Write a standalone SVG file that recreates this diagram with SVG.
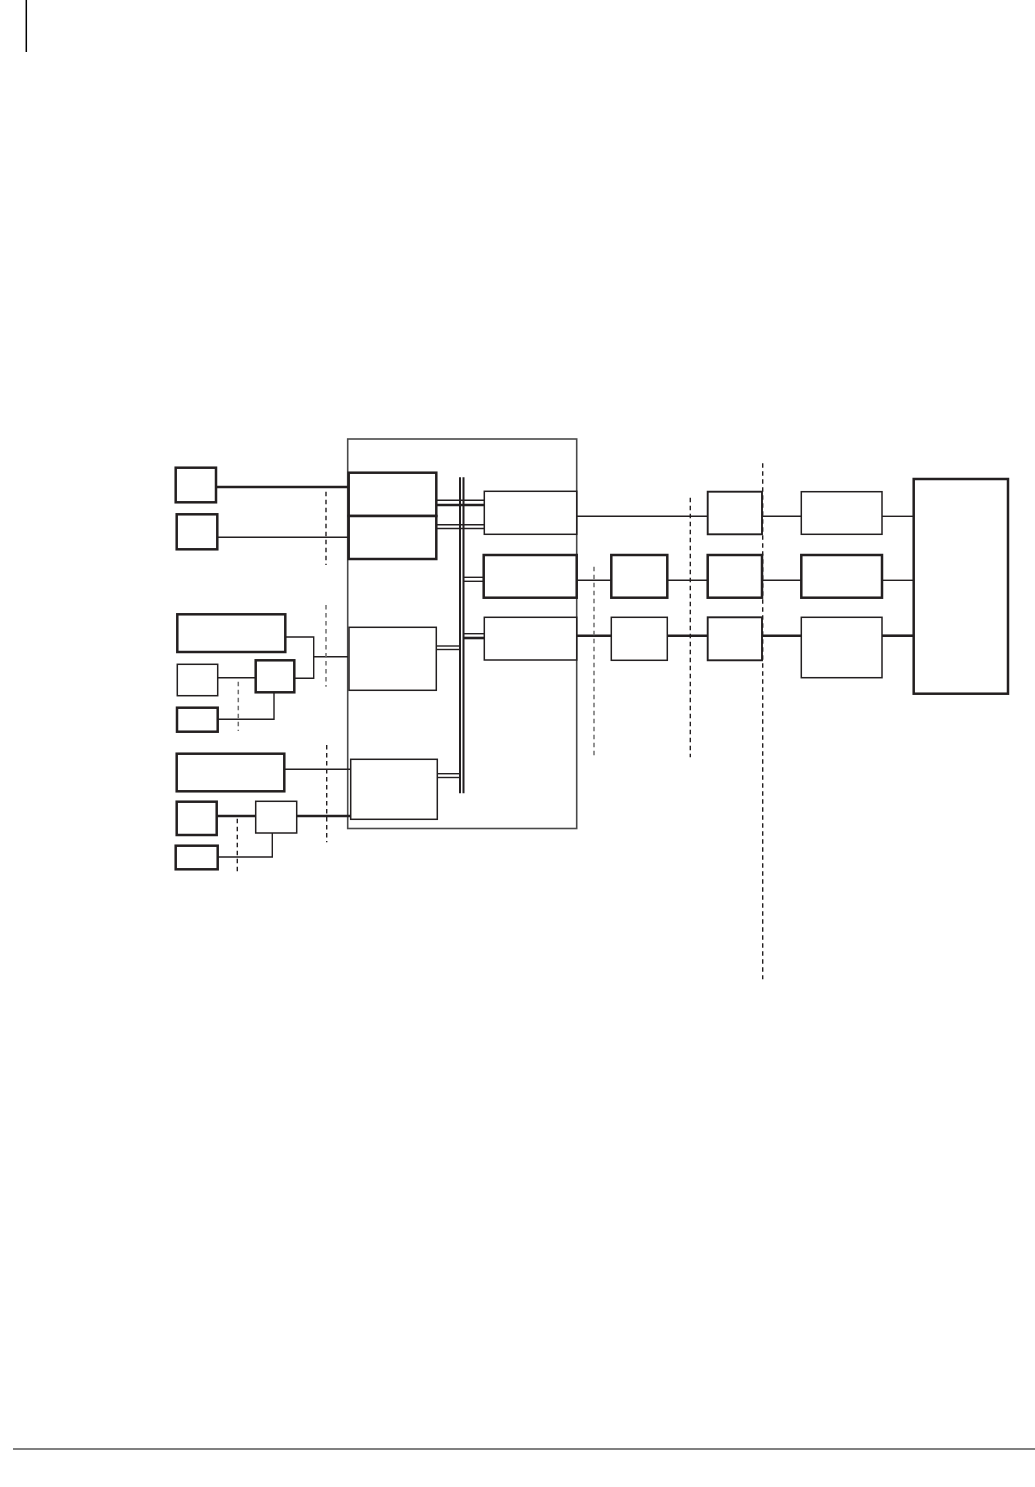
<svg xmlns="http://www.w3.org/2000/svg" width="1035" height="1487" viewBox="0 0 1035 1487">
<style>
.bx{fill:#fff;stroke:#231f20;stroke-width:1.5}
.bm{fill:#fff;stroke:#231f20;stroke-width:1.9}
.bk{fill:#fff;stroke:#231f20;stroke-width:2.5}
.ln{stroke:#231f20;stroke-width:1.4;fill:none}
.lk{stroke:#231f20;stroke-width:2.6;fill:none}
.ds{stroke:#231f20;stroke-width:1.4;stroke-dasharray:4.5 3.5;fill:none}
.dg{stroke:#6f6f6f;stroke-width:1.5;stroke-dasharray:4.5 3.5;fill:none}
</style>
<rect width="1035" height="1487" fill="#fff"/>
<line x1="26.3" y1="0" x2="26.3" y2="52" stroke="#000" stroke-width="1.5"/>
<line x1="13" y1="1449" x2="1035" y2="1449" stroke="#808080" stroke-width="2"/>

<g id="container"><rect x="347.7" y="439" width="229" height="389.5" fill="none" stroke="#4a4a4a" stroke-width="1.6"/></g>

<g id="connectors">
<line class="lk" x1="216" y1="487" x2="348" y2="487"/>
<line class="ln" x1="217" y1="537.3" x2="348" y2="537.3"/>
<polyline class="ln" points="285.3,637 313.7,637 313.7,678.3 294.3,678.3"/>
<line class="ln" x1="313.7" y1="656.7" x2="348" y2="656.7"/>
<line class="ln" x1="217.7" y1="677.7" x2="255.7" y2="677.7"/>
<polyline class="ln" points="274,692.3 274,719.3 217.7,719.3"/>
<line class="ln" x1="284.3" y1="769.3" x2="350.7" y2="769.3"/>
<line class="lk" x1="216.7" y1="816" x2="255.7" y2="816"/>
<line class="lk" x1="296.7" y1="816" x2="350.7" y2="816"/>
<polyline class="ln" points="272.3,833 272.3,857 217.7,857"/>
<line x1="460" y1="477.3" x2="460" y2="793.3" stroke="#231f20" stroke-width="2"/>
<line x1="463.5" y1="477.3" x2="463.5" y2="793.3" stroke="#231f20" stroke-width="2"/>
<line class="ln" x1="436.3" y1="500.3" x2="484.3" y2="500.3"/>
<line class="lk" x1="436.3" y1="505" x2="484.3" y2="505"/>
<line class="ln" x1="436.3" y1="524.7" x2="484.3" y2="524.7"/>
<line class="ln" x1="436.3" y1="528.5" x2="484.3" y2="528.5"/>
<line class="ln" x1="463.5" y1="577.3" x2="484" y2="577.3"/>
<line class="ln" x1="463.5" y1="581.3" x2="484" y2="581.3"/>
<line class="ln" x1="463.5" y1="633.7" x2="484.3" y2="633.7"/>
<line class="lk" x1="463.5" y1="638" x2="484.3" y2="638"/>
<line class="ln" x1="436.3" y1="646" x2="460" y2="646"/>
<line class="ln" x1="436.3" y1="649.5" x2="460" y2="649.5"/>
<line class="ln" x1="437.3" y1="773.7" x2="460" y2="773.7"/>
<line class="ln" x1="437.3" y1="777.5" x2="460" y2="777.5"/>
<line class="ln" x1="576.7" y1="516.3" x2="707.7" y2="516.3"/>
<line class="ln" x1="576.7" y1="580.3" x2="611.3" y2="580.3"/>
<line class="ln" x1="667.3" y1="580.3" x2="707.7" y2="580.3"/>
<line class="lk" x1="576.7" y1="635.7" x2="611.3" y2="635.7"/>
<line class="lk" x1="667.3" y1="635.7" x2="707.7" y2="635.7"/>
<line class="ln" x1="762" y1="516.3" x2="801.3" y2="516.3"/>
<line class="ln" x1="762" y1="580.3" x2="801.3" y2="580.3"/>
<line class="lk" x1="762" y1="635.7" x2="801.3" y2="635.7"/>
<line class="ln" x1="882" y1="516.3" x2="913.7" y2="516.3"/>
<line class="ln" x1="882" y1="580.3" x2="913.7" y2="580.3"/>
<line class="lk" x1="882" y1="635.7" x2="913.7" y2="635.7"/>
<line class="ds" x1="326" y1="491.7" x2="326" y2="565"/>
<line class="dg" x1="326" y1="605" x2="326" y2="686.7"/>
<line class="ds" x1="326.7" y1="745" x2="326.7" y2="842.3"/>
<line class="dg" x1="238.3" y1="681.7" x2="238.3" y2="731"/>
<line class="ds" x1="237.3" y1="818.7" x2="237.3" y2="874"/>
<line class="dg" x1="594" y1="566.7" x2="594" y2="756"/>
<line class="ds" x1="690.3" y1="497.7" x2="690.3" y2="757.3"/>
<line class="ds" x1="762.7" y1="463.3" x2="762.7" y2="979.3"/>
</g>

<g id="A1"><rect class="bk" x="175.7" y="467.7" width="40.3" height="34.6"/></g>
<g id="A2"><rect class="bk" x="176.7" y="514.3" width="40.6" height="35"/></g>
<g id="B1"><rect class="bk" x="348.7" y="472.7" width="87.6" height="43.3"/></g>
<g id="B2"><rect class="bk" x="348.7" y="516" width="87.6" height="43"/></g>
<g id="B3"><rect class="bx" x="349" y="627.3" width="87.3" height="63"/></g>
<g id="B4"><rect class="bx" x="350.7" y="759.3" width="86.6" height="60"/></g>
<g id="C1"><rect class="bx" x="484.3" y="491.3" width="92.4" height="43"/></g>
<g id="C2"><rect class="bk" x="483.7" y="555" width="93" height="42.7"/></g>
<g id="C3"><rect class="bx" x="484.3" y="617.3" width="92.4" height="42.7"/></g>
<g id="D1"><rect class="bk" x="177.3" y="614.3" width="108" height="37.7"/></g>
<g id="D2"><rect class="bx" x="177.3" y="664.3" width="40.4" height="31.4"/></g>
<g id="D3"><rect class="bk" x="255.7" y="660.3" width="38.6" height="32"/></g>
<g id="D4"><rect class="bk" x="177" y="707.7" width="40.7" height="24"/></g>
<g id="E1"><rect class="bk" x="176.7" y="753.7" width="107.6" height="37.6"/></g>
<g id="E2"><rect class="bk" x="176.7" y="801.7" width="40" height="33.3"/></g>
<g id="E3"><rect class="bx" x="255.7" y="801.3" width="41" height="31.7"/></g>
<g id="E4"><rect class="bk" x="175.7" y="845.7" width="42" height="23.6"/></g>
<g id="F1"><rect class="bm" x="707.7" y="491.7" width="54.3" height="42.6"/></g>
<g id="F2"><rect class="bk" x="707.7" y="555" width="54.3" height="42.7"/></g>
<g id="F3"><rect class="bm" x="707.7" y="617.3" width="54.3" height="43"/></g>
<g id="G1"><rect class="bk" x="611.3" y="555" width="56" height="42.7"/></g>
<g id="G2"><rect class="bx" x="611.3" y="617.3" width="56" height="43"/></g>
<g id="H1"><rect class="bx" x="801.3" y="491.7" width="80.7" height="42.6"/></g>
<g id="H2"><rect class="bk" x="801.3" y="555" width="80.7" height="42.7"/></g>
<g id="H3"><rect class="bx" x="801.3" y="617.3" width="80.7" height="60.4"/></g>
<g id="I"><rect class="bk" x="913.7" y="479" width="94.3" height="214.7"/></g>
</svg>
